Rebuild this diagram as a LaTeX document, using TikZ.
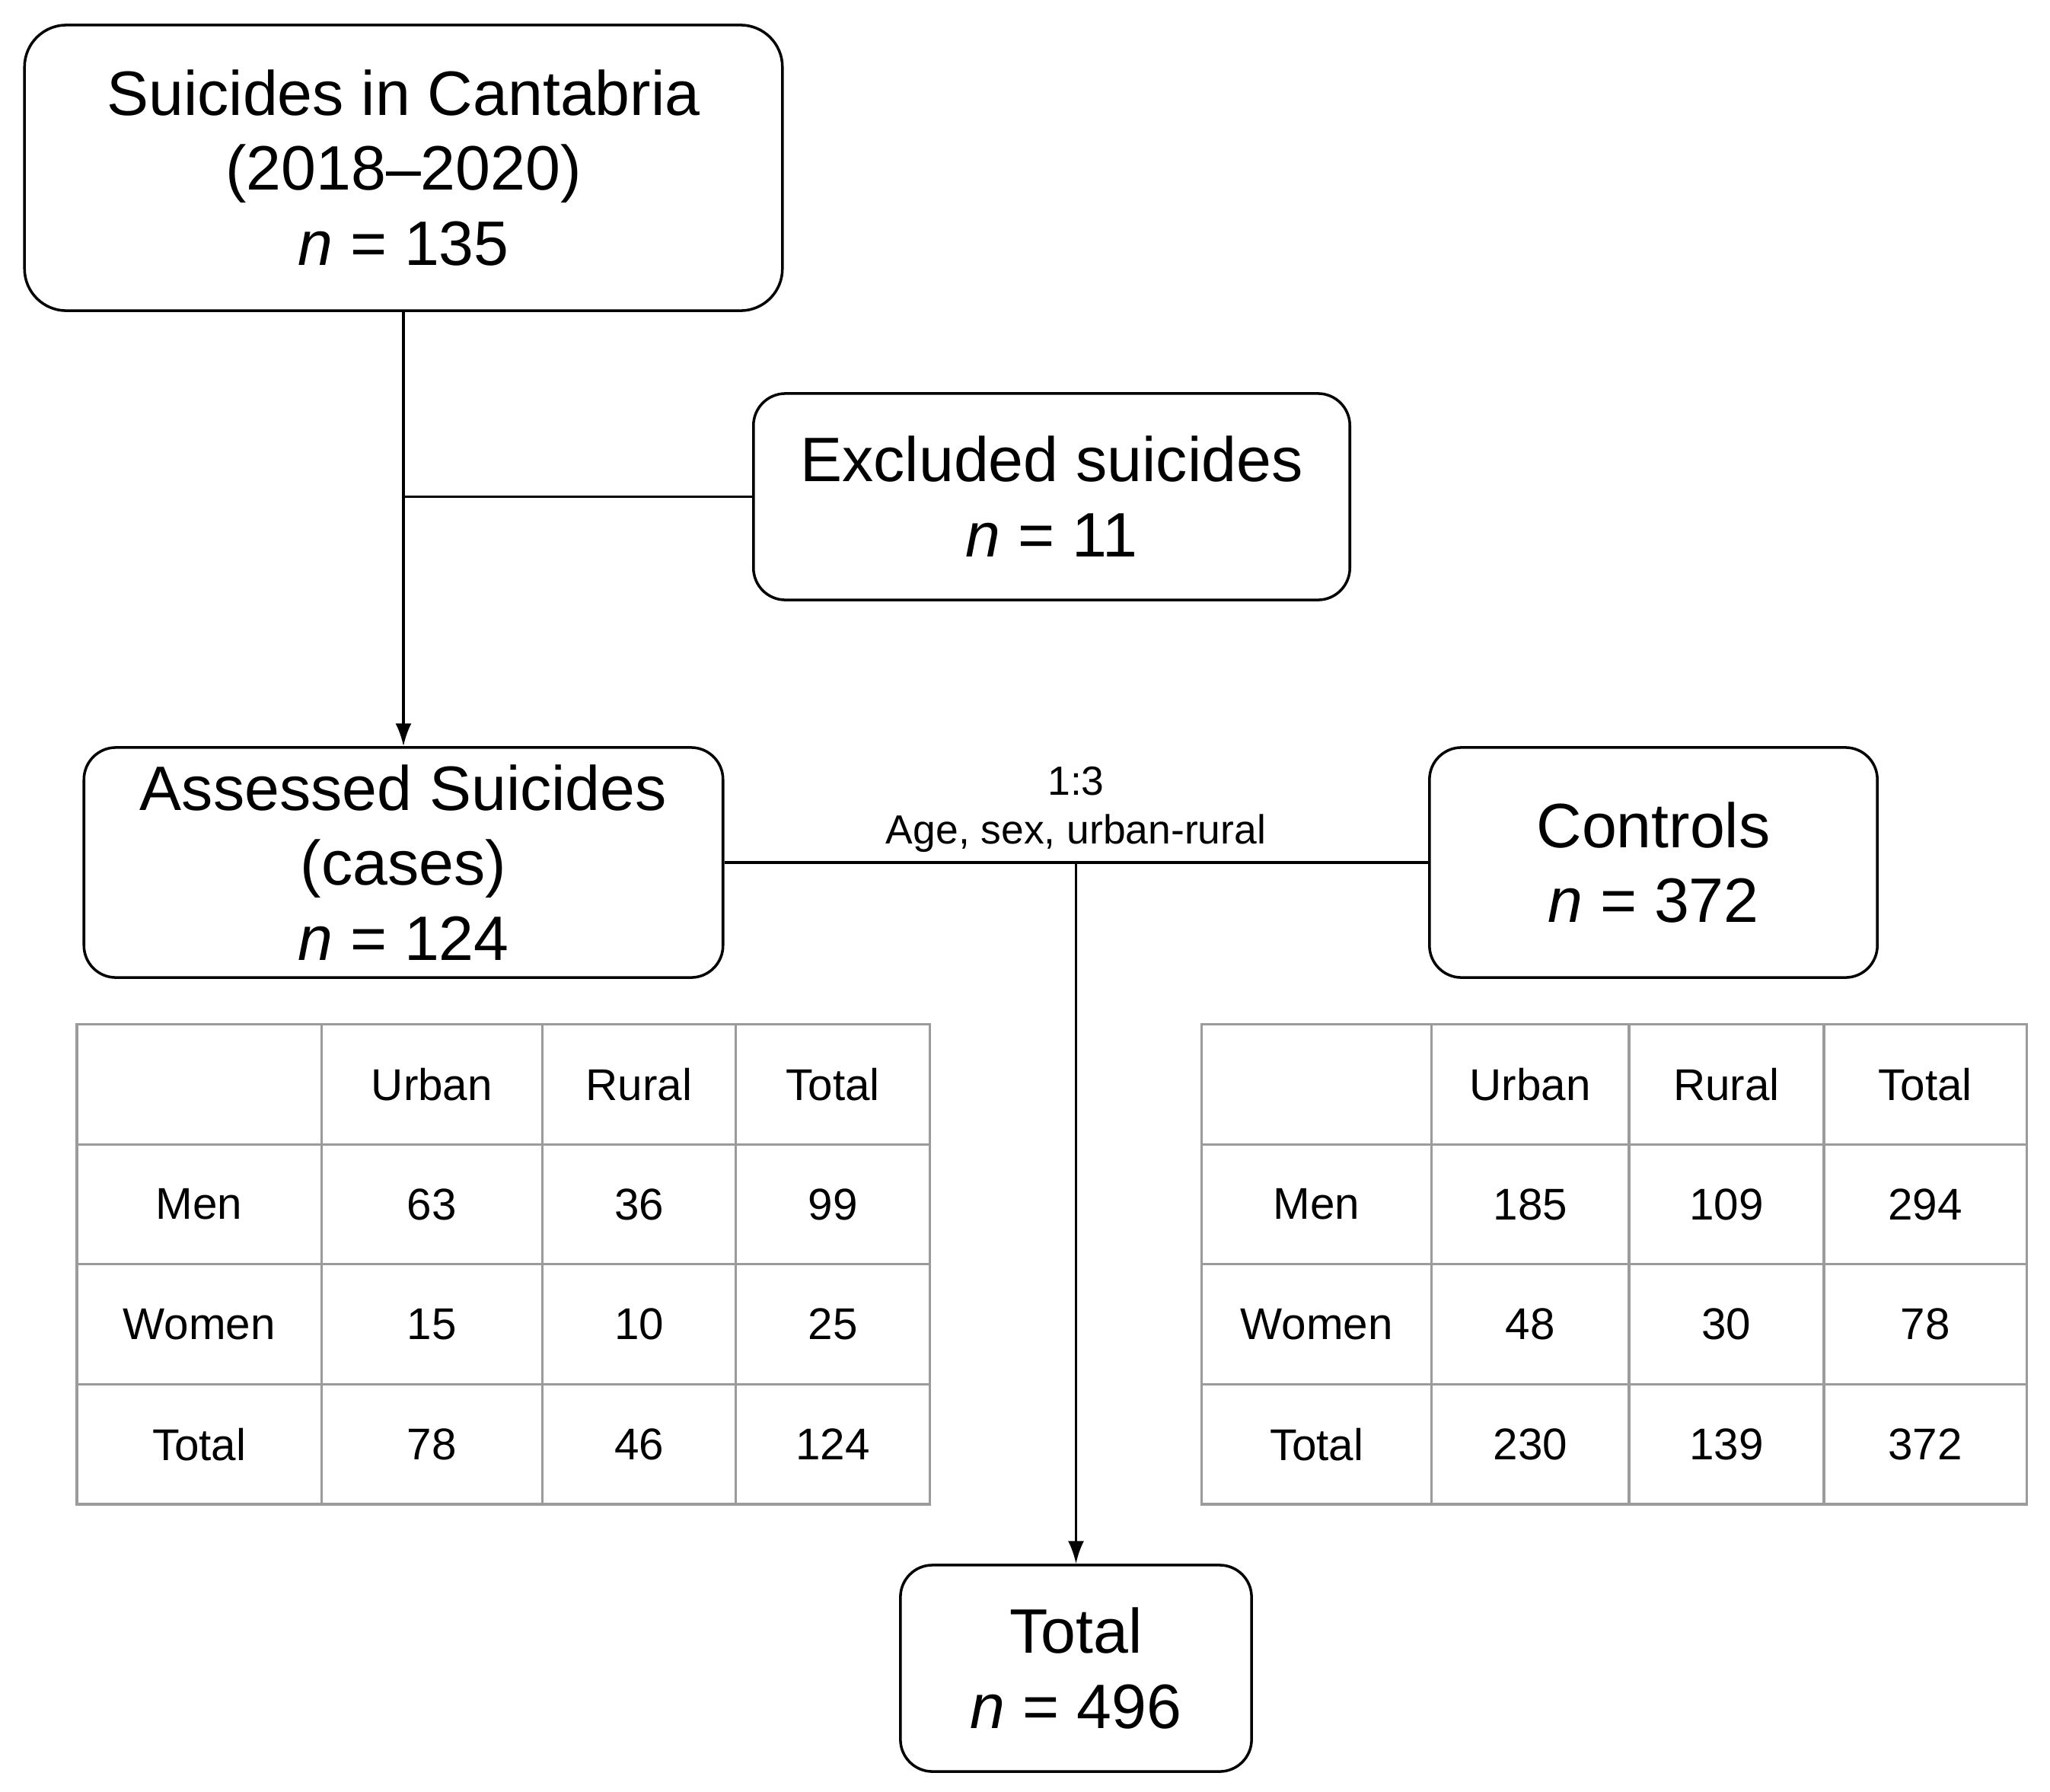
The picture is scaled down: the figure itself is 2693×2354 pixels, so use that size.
\documentclass[tikz,border=0pt]{standalone}
\usepackage{fontspec}
\setmainfont{Liberation Sans}
\usetikzlibrary{arrows.meta,matrix}
\definecolor{tabgray}{RGB}{155,155,155}
\begin{document}
\begin{tikzpicture}[x=0.01cm,y=-0.01cm,
  box/.style={draw=black, line width=1pt, rounded corners=0.42cm, align=center, inner sep=0pt,
    font=\fontsize{23.45}{28.1}\selectfont},
  conn/.style={draw=black, line width=1pt},
  arr/.style={conn, -{Latex[length=8.5pt,width=6pt]}},
  cell/.style={draw=tabgray, line width=0.9pt, inner sep=0pt, outer sep=0pt, anchor=center,
    minimum height=1.575cm, font=\fontsize{16.6}{20}\selectfont},
  tabm/.style={matrix of nodes, nodes in empty cells, inner sep=0pt, outer sep=0pt,
    row sep=-0.9pt, column sep=-0.9pt, nodes={cell}},
  lab/.style={align=center, inner sep=0pt, font=\fontsize{15.2}{18.1}\selectfont}]

\fill[white] (0,0) rectangle (2693,2354);
\useasboundingbox (0,0) rectangle (2693,2354);

\node[box, rounded corners=0.55cm, minimum width=9.95cm, minimum height=3.75cm] (box1) at (530,220.5)
  {Suicides in Cantabria\\(2018--2020)\\\textit{n} = 135};
\node[box, minimum width=7.83cm, minimum height=2.71cm] (excl) at (1381.5,652.5)
  {Excluded suicides\\\textit{n} = 11};
\node[box, minimum width=8.39cm, minimum height=3.02cm] (assessed) at (530,1133)
  {Assessed Suicides\\(cases)\\\textit{n} = 124};
\node[box, minimum width=5.88cm, minimum height=3.02cm] (controls) at (2172,1133)
  {Controls\\\textit{n} = 372};
\node[box, minimum width=4.61cm, minimum height=2.71cm] (total) at (1413.5,2191.5)
  {Total\\\textit{n} = 496};

\node[lab] (match) at (1413.5,1063.5) {1:3\\Age, sex, urban-rural};

\matrix (tabL) [tabm, anchor=north west,
  column 1/.style={nodes={minimum width=3.21cm}},
  column 2/.style={nodes={minimum width=2.90cm}},
  column 3/.style={nodes={minimum width=2.54cm}},
  column 4/.style={nodes={minimum width=2.55cm}}] at (99.5,1344) {
        & Urban & Rural & Total \\
  Men   & 63    & 36    & 99    \\
  Women & 15    & 10    & 25    \\
  Total & 78    & 46    & 124   \\
};

\matrix (tabR) [tabm, anchor=north west,
  column 1/.style={nodes={minimum width=3.02cm}},
  column 2/.style={nodes={minimum width=2.59cm}},
  column 3/.style={nodes={minimum width=2.56cm}},
  column 4/.style={nodes={minimum width=2.66cm}}] at (1577,1344) {
        & Urban & Rural & Total \\
  Men   & 185   & 109   & 294   \\
  Women & 48    & 30    & 78    \\
  Total & 230   & 139   & 372   \\
};

\coordinate (br) at (box1.south |- excl.west);
\coordinate (mid) at (total.north |- assessed.east);
\draw[arr] (box1.south) -- (assessed.north);
\draw[conn] (br) -- (excl.west);
\draw[conn] (assessed.east) -- (controls.west);
\draw[arr] (mid) -- (total.north);
\end{tikzpicture}
\end{document}
